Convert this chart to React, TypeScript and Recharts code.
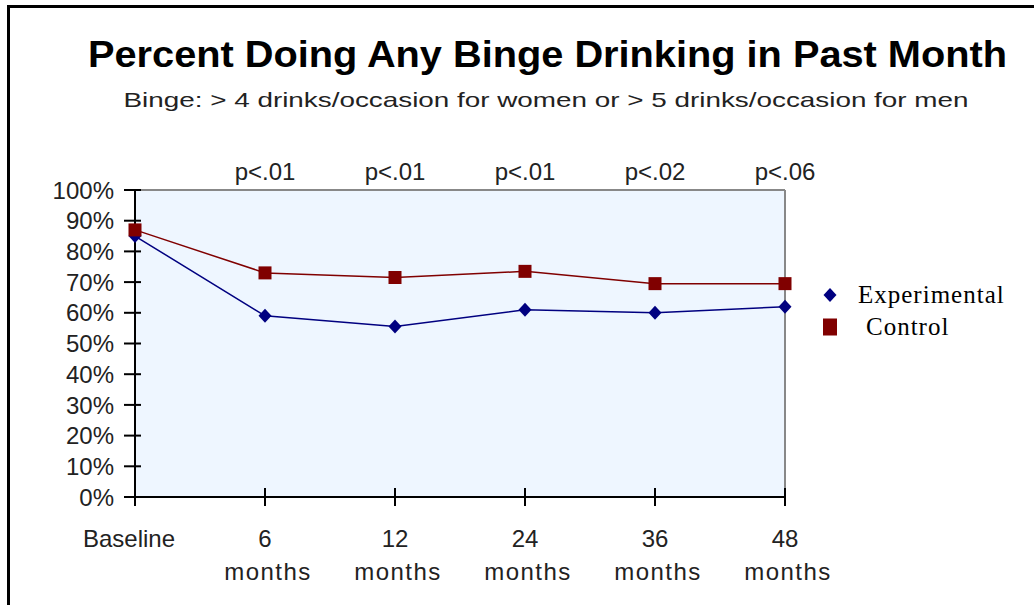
import React from "react";
import {
  LineChart,
  Line,
  XAxis,
  YAxis,
  CartesianGrid,
  ReferenceLine,
  Legend,
} from "recharts";

const waves = ["Baseline", "6 months", "12 months", "24 months", "36 months", "48 months"];
const experimental = [85, 59, 55.5, 61, 60, 62];
const control = [87, 73, 71.5, 73.5, 69.5, 69.5];
const pValues = ["", "p<.01", "p<.01", "p<.01", "p<.02", "p<.06"];
const yTicks = [0, 10, 20, 30, 40, 50, 60, 70, 80, 90, 100];
const seriesOrder = ["experimental", "control"];

const data = waves.map((wave, i) => ({
  wave,
  pval: pValues[i],
  experimental: experimental[i],
  control: control[i],
}));

const SANS = "'Liberation Sans', Arial, sans-serif";
const SERIF = "'Liberation Serif', 'Times New Roman', serif";
const EXP_COLOR = "#000080";
const CTRL_COLOR = "#800000";

const Diamond = ({ cx, cy, fill }: any) => {
  if (cx == null || cy == null) return null;
  return (
    <path
      d={`M${cx},${cy - 7} L${cx + 6.5},${cy} L${cx},${cy + 7} L${cx - 6.5},${cy} Z`}
      fill={fill}
    />
  );
};

const Square = ({ cx, cy, fill }: any) => {
  if (cx == null || cy == null) return null;
  return <rect x={cx - 6.5} y={cy - 6.5} width={13} height={13} fill={fill} />;
};

const YTick = ({ x, y, payload }: any) => (
  <g>
    <line x1={x - 11} x2={x + 6} y1={y} y2={y} stroke="#000" strokeWidth={2} />
    <text
      x={x - 21}
      y={y}
      dy="0.36em"
      textAnchor="end"
      fontFamily={SANS}
      fontSize={24}
      fill="#222"
    >
      {payload.value}%
    </text>
  </g>
);

const XTick = ({ x, y, payload, index }: any) => {
  const label: string = payload.value;
  const parts = label.split(" ");
  return (
    <g>
      <line x1={x} x2={x} y1={y - 9} y2={y + 9} stroke="#000" strokeWidth={2} />
      {parts.length === 1 ? (
        <text
          x={index === 0 ? x + 40 : x}
          y={y + 50}
          textAnchor={index === 0 ? "end" : "middle"}
          fontFamily={SANS}
          fontSize={24}
          fill="#222"
        >
          {label}
        </text>
      ) : (
        <>
          <text x={x} y={y + 50} textAnchor="middle" fontFamily={SANS} fontSize={24} fill="#222">
            {parts[0]}
          </text>
          <text
            x={x + 3}
            y={y + 83}
            textAnchor="middle"
            fontFamily={SANS}
            fontSize={24}
            letterSpacing={1.5}
            fill="#222"
          >
            {parts[1]}
          </text>
        </>
      )}
    </g>
  );
};

const renderLegend = (props: any) => {
  const items = [...(props.payload || [])].sort(
    (a: any, b: any) => seriesOrder.indexOf(a.dataKey) - seriesOrder.indexOf(b.dataKey)
  );
  return (
    <svg width={200} height={70}>
      {items.map((entry: any, i: number) => {
        const cy = 13 + i * 32;
        const isCtrl = entry.dataKey === "control";
        return (
          <g key={entry.value}>
            {isCtrl ? (
              <rect x={3} y={cy - 8.5} width={14} height={17} fill={CTRL_COLOR} />
            ) : (
              <Diamond cx={10} cy={cy} fill={EXP_COLOR} />
            )}
            <text
              x={isCtrl ? 46 : 38}
              y={cy + 8}
              fontFamily={SERIF}
              fontSize={25}
              letterSpacing={1}
              fill="#000"
            >
              {entry.value}
            </text>
          </g>
        );
      })}
    </svg>
  );
};

export default function App() {
  return (
    <div
      style={{
        position: "absolute",
        left: 0,
        top: 0,
        width: 1034,
        height: 605,
        background: "#fff",
        overflow: "hidden",
      }}
    >
      <div
        style={{
          position: "absolute",
          left: 7,
          top: 5,
          width: 1034,
          height: 610,
          borderLeft: "3px solid #000",
          borderTop: "3px solid #000",
        }}
      />
      <svg
        width={1034}
        height={130}
        style={{ position: "absolute", left: 0, top: 0, pointerEvents: "none" }}
      >
        <text
          x={547.5}
          y={67}
          textAnchor="middle"
          fontFamily={SANS}
          fontWeight="bold"
          fontSize={37}
          textLength={919}
          lengthAdjust="spacingAndGlyphs"
          fill="#000"
        >
          Percent Doing Any Binge Drinking in Past Month
        </text>
        <text
          x={546}
          y={107}
          textAnchor="middle"
          fontFamily={SANS}
          fontSize={21}
          textLength={845}
          lengthAdjust="spacingAndGlyphs"
          fill="#222"
        >
          Binge: &gt; 4 drinks/occasion for women or &gt; 5 drinks/occasion for men
        </text>
      </svg>
      <div style={{ position: "absolute", left: 0, top: 0 }}>
        <LineChart
          width={1034}
          height={605}
          data={data}
          margin={{ top: 150, right: 249, bottom: 8, left: 35 }}
        >
          <CartesianGrid horizontal={false} vertical={false} fill="#EEF6FF" />
          <ReferenceLine x="48 months" stroke="#888" strokeWidth={2} />
          <XAxis
            xAxisId="p"
            dataKey="pval"
            orientation="top"
            height={40}
            axisLine={{ stroke: "#888", strokeWidth: 2 }}
            tickLine={false}
            tickSize={0}
            tickMargin={10}
            interval={0}
            tick={{ fontFamily: SANS, fontSize: 24, fill: "#222" }}
          />
          <XAxis
            dataKey="wave"
            height={100}
            axisLine={{ stroke: "#000", strokeWidth: 2 }}
            tickLine={false}
            tickSize={0}
            tickMargin={0}
            interval={0}
            tick={<XTick />}
          />
          <YAxis
            domain={[0, 100]}
            ticks={yTicks}
            width={100}
            axisLine={{ stroke: "#000", strokeWidth: 2 }}
            tickLine={false}
            tickSize={0}
            tickMargin={0}
            interval={0}
            tick={<YTick />}
          />
          <Legend
            layout="horizontal"
            verticalAlign="middle"
            align="center"
            content={renderLegend}
            wrapperStyle={{ position: "absolute", left: 820, top: 282, width: 200 }}
          />
          <Line
            type="linear"
            dataKey="experimental"
            name="Experimental"
            stroke={EXP_COLOR}
            strokeWidth={1.5}
            dot={<Diamond fill={EXP_COLOR} />}
            activeDot={false}
            isAnimationActive={false}
          />
          <Line
            type="linear"
            dataKey="control"
            name="Control"
            stroke={CTRL_COLOR}
            strokeWidth={1.5}
            dot={<Square fill={CTRL_COLOR} />}
            activeDot={false}
            isAnimationActive={false}
          />
        </LineChart>
      </div>
    </div>
  );
}
